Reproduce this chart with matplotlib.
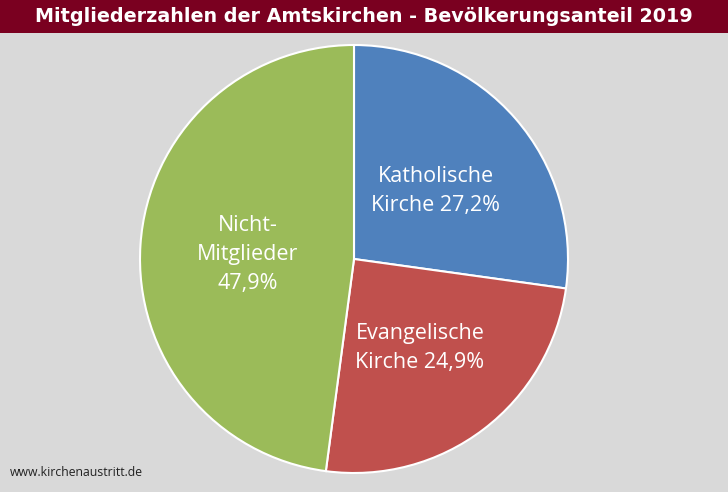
import matplotlib.pyplot as plt
from matplotlib.patches import Rectangle

# Mitgliederzahlen der Amtskirchen 2019 (Anteil an der Bevölkerung in %)
labels = ["Katholische\nKirche 27,2%", "Evangelische\nKirche 24,9%", "Nicht-\nMitglieder\n47,9%"]
shares = [27.2, 24.9, 47.9]
colors = ["#4F81BD", "#C0504D", "#9BBB59"]
title = "Mitgliederzahlen der Amtskirchen - Bevölkerungsanteil 2019"
source = "www.kirchenaustritt.de"

W, H = 728, 492
fig = plt.figure(figsize=(W / 100, H / 100), dpi=100)
fig.patch.set_facecolor("#D9D9D9")

# title bar
fig.patches.append(Rectangle((0, 1 - 33 / H), 1, 33 / H, transform=fig.transFigure,
                             facecolor="#7A0020", edgecolor="none", zorder=0))
fig.text(0.5, 1 - 17 / H, title, ha="center", va="center", color="white",
         fontsize=13.8, fontweight="bold", family="DejaVu Sans")

# pie: center (354, 259) px, radius 214 px
cx, cy, r = 354, 259, 214
ax = fig.add_axes([(cx - r) / W, (H - cy - r) / H, 2 * r / W, 2 * r / H])
ax.pie(shares, colors=colors, startangle=90, counterclock=False, radius=1,
       wedgeprops=dict(edgecolor="white", linewidth=1.5))
ax.set_xlim(-1.0, 1.0)
ax.set_ylim(-1.0, 1.0)
ax.set_aspect("equal")
ax.axis("off")

label_pos = [(0.383, 0.318), (0.308, -0.416), (-0.498, 0.023)]
for txt, (x, y) in zip(labels, label_pos):
    ax.text(x, y, txt, ha="center", va="center", color="white", fontsize=15.5,
            family="Open Sans", linespacing=1.5)

fig.text(10 / W, 1 - 472 / H, source, ha="left", va="center", color="#222222",
         fontsize=8.8, family="Open Sans")

fig.savefig("out.png", dpi=100, facecolor=fig.get_facecolor())
